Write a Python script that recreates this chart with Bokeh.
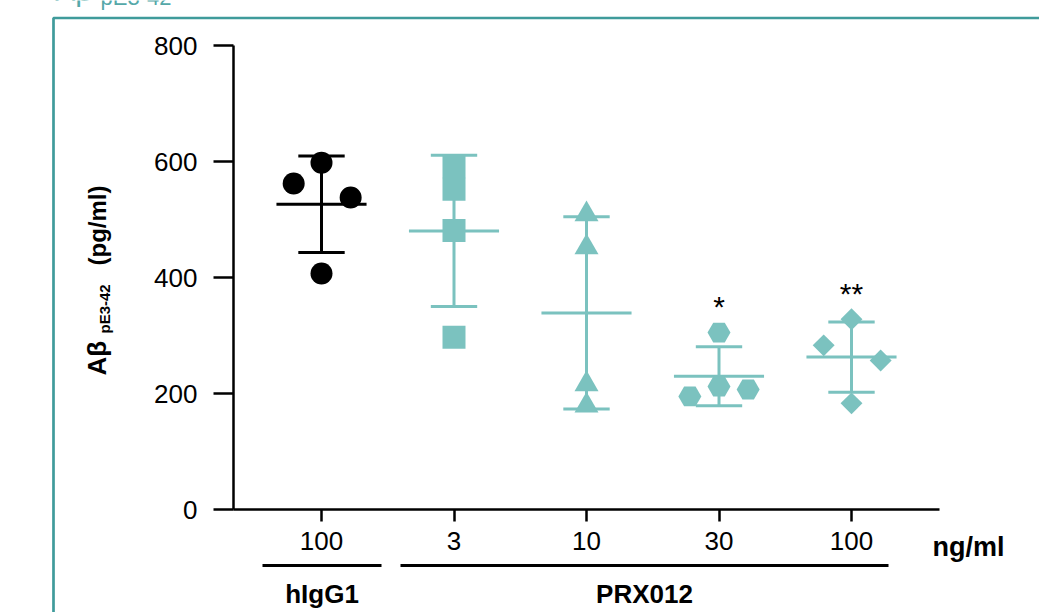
import numpy as np
from bokeh.plotting import figure
from bokeh.models import FixedTicker, Label, BoxAnnotation, Range1d
from bokeh.core.properties import value
from bokeh.embed import file_html
from bokeh.resources import INLINE

# ---------------- data ----------------
dose_labels = ["100", "3", "10", "30", "100"]
hIgG1_100 = [562, 598, 538, 407]
prx012_3 = [591, 552, 481, 297]
prx012_10 = [509, 452, 216, 179]
prx012_30 = [305, 212, 195, 207]
prx012_100 = [328, 283, 257, 183]
significance = ["", "", "", "*", "**"]
y_ticks = [0, 200, 400, 600, 800]
group_names = ["hIgG1", "PRX012"]
unit_label = "ng/ml"

# horizontal jitter of points within each column (category units)
jitter = [
    [-0.21, 0.0, 0.22, 0.0],
    [0.0, 0.0, 0.0, 0.0],
    [0.0, 0.0, 0.0, 0.0],
    [0.0, 0.0, -0.22, 0.22],
    [0.0, -0.21, 0.22, 0.0],
]

TEAL = "#7bc2bf"
FRAME = "#3f9b9b"
HEAD = "#55a8a8"
FONT = "Liberation Sans"

series = [
    (hIgG1_100, "circle", "black", 22, 0.0),
    (prx012_3, "square", TEAL, 23, 0.0),
    (prx012_10, "triangle", TEAL, 24, 0.0),
    (prx012_30, "hex", TEAL, 23, 0.0),
    (prx012_100, "square", TEAL, 15.5, np.pi / 4),
]

# canvas size and pixel <-> data mapping (the data frame fills the canvas)
W, H = 1039, 612
X0_PX, X_PX = 188.5, 132.5   # pixel of x=0, pixels per category step
Y0_PX, Y_PX = 509.0, 0.58    # pixel of y=0, pixels per pg/ml


def px2x(px):
    return (px - X0_PX) / X_PX


def px2y(py):
    return (Y0_PX - py) / Y_PX


p = figure(
    width=W, height=H,
    x_range=Range1d(px2x(0), px2x(W)), y_range=Range1d(px2y(H), px2y(0)),
    output_backend="svg", toolbar_location=None, title=None,
    min_border=0, min_border_left=0, min_border_right=0,
    min_border_top=0, min_border_bottom=0,
)
p.xgrid.visible = False
p.ygrid.visible = False
p.outline_line_color = None
p.background_fill_color = "white"
p.border_fill_color = "white"

# axes, pinned inside the frame
p.yaxis.fixed_location = px2x(233)
p.yaxis.bounds = (0, 800)
p.xaxis.fixed_location = 0
p.xaxis.bounds = (px2x(233), px2x(939))
p.yaxis.ticker = FixedTicker(ticks=y_ticks)
p.xaxis.ticker = FixedTicker(ticks=[1, 2, 3, 4, 5])
p.xaxis.major_label_overrides = {i + 1: lab for i, lab in enumerate(dose_labels)}
for ax in (p.xaxis, p.yaxis):
    ax.axis_line_width = 2.5
    ax.axis_line_color = "black"
    ax.major_tick_line_width = 2.5
    ax.major_tick_line_color = "black"
    ax.major_tick_in = 0
    ax.minor_tick_in = 0
    ax.minor_tick_out = 0
    ax.major_label_text_font = FONT
    ax.major_label_text_font_size = "26px"
    ax.major_label_text_color = "black"
p.yaxis.major_tick_out = 20
p.yaxis.major_label_standoff = 16
p.xaxis.major_tick_out = 12
p.xaxis.major_label_standoff = 10

# data: mean +/- SD and points
for i, (vals, marker, color, size, angle) in enumerate(series):
    xc = i + 1
    m = float(np.mean(vals))
    s = float(np.std(vals, ddof=1))
    p.segment(
        x0=[xc, xc - 0.175, xc - 0.175, xc - 0.34],
        y0=[m - s, m + s, m - s, m],
        x1=[xc, xc + 0.175, xc + 0.175, xc + 0.34],
        y1=[m + s, m + s, m - s, m],
        line_color=color, line_width=3,
    )
    p.scatter(
        x=list(xc + np.array(jitter[i])), y=vals, marker=marker, size=size,
        angle=angle, fill_color=color, line_color=None,
    )
    if significance[i]:
        p.text(
            x=[xc], y=[max(vals) + 45], text=[significance[i]],
            text_font=value(FONT), text_font_size="30px",
            text_align="center", text_baseline="alphabetic", text_color="black",
        )


def label(x, y, text, size, bold=True, color="black", angle=0.0, align="center"):
    p.add_layout(Label(x=x, y=y, text=text, angle=angle, text_color=color,
                       text_font=FONT, text_font_size=size,
                       text_font_style="bold" if bold else "normal",
                       text_align=align, text_baseline="middle"))


# y-axis label with subscript (rotated, reading upwards)
label(px2x(96), px2y(375), "Aβ", "26px", angle=np.pi / 2, align="left")
label(px2x(104), px2y(333), "pE3-42", "15px", angle=np.pi / 2, align="left")
label(px2x(97), px2y(265), "(pg/ml)", "24px", angle=np.pi / 2, align="left")

# unit label next to x tick labels
label(px2x(932), px2y(546), unit_label, "27px", align="left")

# group underlines and names
spans = [(px2x(262), px2x(381)), (px2x(400), px2x(888))]
p.segment(x0=[a for a, b in spans], x1=[b for a, b in spans],
          y0=[px2y(565)] * 2, y1=[px2y(565)] * 2, line_color="black", line_width=3)
for (xa, xb), name in zip(spans, group_names):
    label((xa + xb) / 2, px2y(593), name, "26px")

# teal panel frame and the panel heading cut off at the top edge
p.add_layout(BoxAnnotation(left=px2x(53), right=px2x(W + 50), top=px2y(17.5), bottom=px2y(H + 50),
                           fill_alpha=0, line_alpha=1, line_color=FRAME, line_width=2.7))
label(px2x(92), px2y(-10), "Aβ", "30px", bold=False, color=HEAD, align="right")
label(px2x(100), px2y(-3), "pE3-42", "22px", bold=False, color=HEAD, align="left")

open("out.html", "w").write(file_html(p, INLINE))
